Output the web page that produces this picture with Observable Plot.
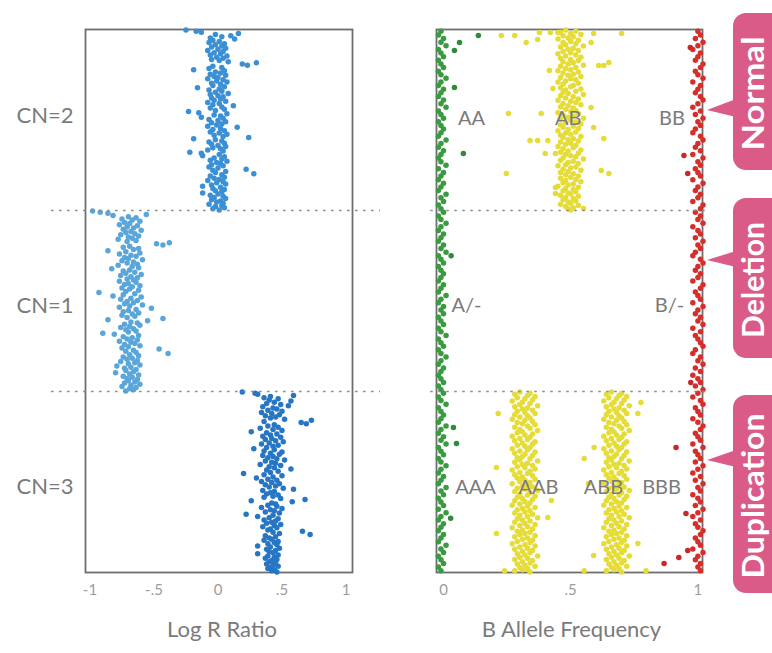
<!DOCTYPE html>
<html>
<head>
<meta charset="utf-8">
<script src="https://cdn.jsdelivr.net/npm/d3@7"></script>
<script src="https://cdn.jsdelivr.net/npm/@observablehq/plot@0.6"></script>
<style>
  html, body { margin: 0; padding: 0; background: #fff; }
  #wrap { position: relative; width: 772px; height: 653px; overflow: hidden; background: #fff; }
  #wrap svg { position: absolute; top: 0; }
</style>
</head>
<body>
<div id="wrap"></div>
<script>
// ---------- tick labels & categories ----------
const lrrTicks = [-1, -0.5, 0, 0.5, 1];
const lrrTickLabels = ["-1", "-.5", "0", ".5", "1"];
const bafTicks = [0, 0.5, 1];
const bafTickLabels = ["0", ".5", "1"];
const segments = ["CN=2", "CN=1", "CN=3"];          // top to bottom
const segmentLabelPos = [0.48, 1.525, 2.53];         // genomic position (segment units)
const callouts = ["Normal", "Deletion", "Duplication"];
const genotypes = ["AA", "AB", "BB", "A/-", "B/-", "AAA", "AAB", "ABB", "BBB"];
const genotypeBaf = [0.11, 0.49, 0.898, 0.09, 0.888, 0.126, 0.373, 0.629, 0.857];
const genotypePos = [0.49, 0.49, 0.49, 1.528, 1.528, 2.533, 2.533, 2.533, 2.533];

// ---------- Log R Ratio, in genomic order within each segment ----------
const lrrCN2 = [
 -0.25,-0.17,-0.13,0.16,-0.02,0.10,0.03,-0.06,0.13,-0.04,
 0.01,-0.07,0.05,-0.02,0.03,-0.05,0.06,0.00,-0.08,0.04,
 -0.03,0.02,-0.06,0.07,-0.01,0.04,-0.05,0.01,0.08,0.30,
 0.19,0.23,-0.04,0.03,-0.07,-0.19,0.05,-0.02,0.02,-0.06,
 0.06,-0.03,0.00,-0.08,0.04,-0.01,0.07,-0.05,0.02,-0.04,
 0.05,-0.16,0.01,-0.07,0.03,-0.02,0.08,-0.06,0.00,0.04,
 -0.05,0.02,-0.03,0.06,-0.08,0.01,-0.04,0.12,0.03,-0.06,
 0.05,-0.02,-0.23,-0.15,0.07,-0.03,0.02,-0.13,0.04,-0.07,
 0.00,0.06,-0.05,0.03,-0.01,-0.08,0.15,0.02,-0.04,0.05,
 -0.06,0.01,0.07,-0.03,0.04,0.24,-0.19,-0.02,0.03,-0.07,
 0.05,-0.05,0.00,0.06,-0.04,0.02,-0.08,0.04,-0.22,-0.13,
 0.01,-0.12,0.05,-0.03,0.03,-0.06,0.07,-0.01,0.02,-0.05,
 0.04,-0.07,0.00,0.22,-0.04,0.06,-0.02,0.28,0.03,-0.06,
 0.05,-0.03,0.01,-0.08,0.04,-0.01,0.06,-0.05,-0.12,0.02,
 -0.04,0.05,-0.02,0.03,-0.12,0.00,-0.06,0.04,-0.03,0.06,
 -0.05,0.02,-0.01,0.04,-0.07,0.03,-0.02,0.05,-0.04,0.01
];
const lrrCN1 = [
 -0.98,-0.92,-0.86,-0.56,-0.82,-0.70,-0.64,-0.75,-0.67,-0.61,
 -0.73,-0.69,-0.77,-0.63,-0.71,-0.66,-0.74,-0.60,-0.68,-0.72,
 -0.65,-0.76,-0.62,-0.70,-0.67,-0.78,-0.64,-0.71,-0.38,-0.48,
 -0.43,-0.69,-0.74,-0.62,-0.66,-0.86,-0.72,-0.61,-0.77,-0.68,
 -0.64,-0.73,-0.70,-0.59,-0.75,-0.66,-0.71,-0.63,-0.78,-0.67,
 -0.62,-0.83,-0.69,-0.74,-0.65,-0.72,-0.60,-0.76,-0.68,-0.63,
 -0.71,-0.66,-0.77,-0.64,-0.70,-0.73,-0.61,-0.67,-0.75,-0.69,
 -0.62,-0.72,-0.93,-0.65,-0.74,-0.82,-0.60,-0.68,-0.76,-0.63,
 -0.71,-0.66,-0.73,-0.59,-0.69,-0.77,-0.52,-0.64,-0.70,-0.74,
 -0.62,-0.67,-0.75,-0.65,-0.71,-0.43,-0.86,-0.55,-0.68,-0.63,
 -0.73,-0.61,-0.69,-0.76,-0.66,-0.72,-0.64,-0.70,-0.90,-0.81,
 -0.62,-0.74,-0.67,-0.71,-0.63,-0.77,-0.68,-0.65,-0.73,-0.61,
 -0.70,-0.75,-0.46,-0.66,-0.72,-0.64,-0.39,-0.69,-0.62,-0.74,
 -0.67,-0.71,-0.63,-0.76,-0.65,-0.70,-0.61,-0.79,-0.68,-0.73,
 -0.64,-0.72,-0.66,-0.80,-0.69,-0.62,-0.74,-0.67,-0.71,-0.63,
 -0.70,-0.65,-0.73,-0.61,-0.68,-0.75,-0.64,-0.69,-0.66,-0.72
];
const lrrCN3 = [
 0.19,0.29,0.31,0.59,0.41,0.36,0.47,0.40,0.57,0.44,
 0.38,0.49,0.55,0.35,0.43,0.46,0.39,0.50,0.34,0.42,
 0.48,0.37,0.45,0.41,0.52,0.73,0.36,0.65,0.69,0.44,
 0.39,0.47,0.33,0.43,0.50,0.26,0.38,0.46,0.41,0.35,
 0.49,0.42,0.37,0.45,0.51,0.40,0.34,0.47,0.43,0.38,
 0.28,0.44,0.36,0.50,0.41,0.48,0.35,0.43,0.39,0.46,
 0.52,0.37,0.42,0.45,0.33,0.49,0.40,0.44,0.57,0.38,
 0.47,0.41,0.20,0.36,0.50,0.43,0.30,0.39,0.46,0.34,
 0.42,0.48,0.37,0.45,0.40,0.51,0.59,0.35,0.44,0.41,
 0.38,0.47,0.43,0.36,0.49,0.68,0.26,0.58,0.42,0.45,
 0.39,0.46,0.34,0.50,0.41,0.44,0.37,0.48,0.22,0.43,
 0.31,0.40,0.47,0.36,0.45,0.42,0.38,0.49,0.44,0.35,
 0.46,0.41,0.39,0.66,0.43,0.48,0.72,0.37,0.45,0.40,
 0.42,0.36,0.47,0.44,0.39,0.46,0.31,0.41,0.48,0.38,
 0.45,0.40,0.43,0.31,0.47,0.39,0.44,0.37,0.46,0.42,
 0.40,0.45,0.38,0.43,0.47,0.41,0.39,0.44,0.42,0.46
];

// ---------- B Allele Frequency ----------
// homozygous A (whole region, genomic order)
const bafGreen = [
 -0.01,-0.02,0.00,-0.01,0.01,-0.02,-0.01,0.00,-0.02,-0.01,
 0.00,-0.02,-0.01,0.01,-0.01,-0.02,0.00,-0.01,-0.02,0.00,
 -0.01,0.01,-0.02,-0.01,0.00,-0.02,-0.01,0.00,-0.01,-0.02,
 0.01,-0.01,-0.02,0.00,-0.01,-0.02,-0.01,0.01,-0.02,0.00,
 -0.01,-0.02,0.00,-0.01,-0.02,0.01,-0.01,0.00,-0.02,-0.01,
 0.00,-0.02,-0.01,0.01,-0.01,-0.02,0.00,-0.01,-0.02,0.00,
 -0.01,0.01,-0.02,-0.01,0.00,-0.02,-0.01,0.00,-0.01,-0.02,
 0.00,-0.01,-0.02,0.01,-0.01,-0.02,0.00,-0.01,0.00,-0.02,
 -0.01,0.00,-0.02,-0.01,0.01,-0.02,-0.01,0.00,-0.02,-0.01,
 0.01,-0.01,-0.02,0.00,-0.01,-0.02,-0.01,0.00,-0.02,-0.01,
 0.00,-0.02,-0.01,0.01,-0.02,-0.01,0.00,-0.01,-0.02,0.01,
 -0.01,-0.02,0.00,-0.01,0.01,-0.02,-0.01,0.00,-0.02,-0.01,
 0.01,-0.01,-0.02,0.00,-0.01,-0.02,0.01,-0.01,0.00,-0.02,
 -0.01,0.00,-0.02,0.01,-0.01,-0.02,0.00,-0.01,-0.02,0.00,
 -0.01,-0.02,0.01,-0.01,0.00,-0.02,-0.01,0.00,-0.02,-0.01
];
const bafGreenOutBaf = [0.063, 0.137, 0.043, 0.043, 0.078, 0.039, 0.051, 0.030, 0.028];
const bafGreenOutPos = [0.072, 0.033, 0.116, 0.320, 0.685, 2.199, 2.287, 1.250, 2.700];
// homozygous B (whole region, genomic order)
const bafRed = [
 1.00,1.01,0.99,1.02,1.00,0.98,1.01,1.00,0.99,1.02,
 1.01,0.99,1.00,1.02,0.98,1.01,1.00,0.99,1.01,1.02,
 1.00,0.98,1.01,0.99,1.02,1.00,1.01,0.99,0.98,1.01,
 1.02,1.00,0.99,1.01,0.98,1.02,1.00,1.01,0.99,1.00,
 1.01,0.98,1.02,1.00,0.99,1.01,1.00,0.98,1.02,1.01,
 0.99,1.01,1.00,1.02,0.98,1.00,1.01,0.99,1.02,1.00,
 1.01,0.99,0.98,1.01,1.02,1.00,0.99,1.01,1.00,0.98,
 1.02,1.01,0.99,1.00,1.01,0.98,1.02,1.00,0.99,1.01,
 1.00,1.02,0.98,1.01,0.99,1.00,1.01,1.02,0.99,0.98,
 1.01,1.00,1.02,0.99,1.01,0.98,1.00,1.01,0.99,1.02,
 1.00,0.98,1.01,1.02,0.99,1.00,1.01,0.98,1.00,1.02,
 1.01,0.99,1.00,1.01,0.98,1.02,0.99,1.00,1.01,0.99,
 1.02,1.00,0.98,1.01,0.99,1.02,1.00,1.01,0.98,1.00,
 1.01,0.99,1.02,1.00,0.98,1.01,0.99,1.00,1.02,1.01,
 0.99,1.00,1.01,0.98,1.02,1.00,0.99,1.01,1.00,1.01
];
const bafRedOutBaf = [0.945, 0.960, 0.914, 0.953, 0.867, 0.925, 0.960, 0.970, 0.972];
const bafRedOutPos = [0.696, 0.796, 2.309, 2.674, 2.950, 2.917, 2.878, 0.100, 1.950];
// heterozygous AB (normal segment)
const bafAB = [
 0.48,0.52,0.46,0.50,0.54,0.47,0.51,0.49,0.45,0.53,
 0.50,0.47,0.52,0.48,0.55,0.46,0.51,0.49,0.53,0.47,
 0.50,0.45,0.52,0.48,0.54,0.46,0.50,0.53,0.47,0.51,
 0.49,0.55,0.46,0.52,0.48,0.50,0.45,0.53,0.47,0.51,
 0.49,0.54,0.46,0.50,0.52,0.48,0.45,0.53,0.47,0.51,
 0.50,0.46,0.54,0.48,0.52,0.47,0.49,0.55,0.46,0.51,
 0.48,0.53,0.45,0.50,0.52,0.47,0.54,0.49,0.46,0.51,
 0.48,0.52,0.50,0.45,0.53,0.47,0.51,0.49,0.55,0.46,
 0.50,0.52,0.48,0.54,0.46,0.51,0.47,0.53,0.49,0.45,
 0.52,0.48,0.50,0.46,0.54,0.47,0.51,0.49,0.53,0.46,
 0.50,0.48,0.52,0.45,0.51,0.47,0.54,0.49,0.46,0.53,
 0.48,0.50,0.52,0.47,0.55,0.46,0.51,0.49,0.53,0.48,
 0.45,0.52,0.50,0.47,0.54,0.49,0.46,0.51,0.48,0.53,
 0.50,0.46,0.52,0.48,0.54,0.47,0.51,0.49,0.45,0.53,
 0.48,0.51,0.47,0.52,0.49,0.50,0.46,0.53,0.48,0.51,
 0.47,0.52,0.49,0.50,0.46,0.53,0.48,0.51,0.49,0.50
];
// AAB and ABB (duplication segment)
const bafAAB = [
 0.30,0.34,0.28,0.33,0.36,0.29,0.32,0.35,0.27,0.31,
 0.34,0.30,0.37,0.28,0.33,0.31,0.35,0.29,0.32,0.36,
 0.28,0.33,0.30,0.34,0.27,0.32,0.35,0.29,0.31,0.36,
 0.33,0.28,0.34,0.30,0.37,0.31,0.29,0.35,0.32,0.27,
 0.34,0.30,0.33,0.28,0.36,0.31,0.35,0.29,0.32,0.34,
 0.27,0.33,0.30,0.36,0.28,0.32,0.35,0.31,0.29,0.34,
 0.30,0.37,0.28,0.33,0.31,0.35,0.29,0.32,0.36,0.27,
 0.34,0.30,0.33,0.28,0.35,0.31,0.29,0.36,0.32,0.30,
 0.34,0.27,0.33,0.31,0.35,0.29,0.32,0.37,0.28,0.34,
 0.30,0.33,0.36,0.29,0.31,0.35,0.28,0.32,0.34,0.30,
 0.27,0.33,0.36,0.31,0.29,0.34,0.32,0.28,0.35,0.30,
 0.33,0.37,0.29,0.31,0.34,0.28,0.32,0.36,0.30,0.33,
 0.27,0.35,0.31,0.29,0.34,0.32,0.30,0.36,0.28,0.33,
 0.31,0.35,0.29,0.34,0.27,0.32,0.36,0.30,0.33,0.28,
 0.35,0.31,0.34,0.29,0.32,0.37,0.30,0.33,0.28,0.35,
 0.31,0.34,0.29,0.32,0.36,0.30,0.33,0.31,0.28,0.34
];
const bafABB = [
 0.66,0.70,0.64,0.69,0.72,0.65,0.68,0.71,0.63,0.67,
 0.70,0.66,0.73,0.64,0.69,0.67,0.71,0.65,0.68,0.72,
 0.64,0.69,0.66,0.70,0.63,0.68,0.71,0.65,0.67,0.72,
 0.69,0.64,0.70,0.66,0.73,0.67,0.65,0.71,0.68,0.63,
 0.70,0.66,0.69,0.64,0.72,0.67,0.71,0.65,0.68,0.70,
 0.63,0.69,0.66,0.72,0.64,0.68,0.71,0.67,0.65,0.70,
 0.66,0.73,0.64,0.69,0.67,0.71,0.65,0.68,0.72,0.63,
 0.70,0.66,0.69,0.64,0.71,0.67,0.65,0.72,0.68,0.66,
 0.70,0.63,0.69,0.67,0.71,0.65,0.68,0.73,0.64,0.70,
 0.66,0.69,0.72,0.65,0.67,0.71,0.64,0.68,0.70,0.66,
 0.63,0.69,0.72,0.67,0.65,0.70,0.68,0.64,0.71,0.66,
 0.69,0.73,0.65,0.67,0.70,0.64,0.68,0.72,0.66,0.69,
 0.63,0.71,0.67,0.65,0.70,0.68,0.66,0.72,0.64,0.69,
 0.67,0.71,0.65,0.70,0.63,0.68,0.72,0.66,0.69,0.64,
 0.71,0.67,0.70,0.65,0.68,0.73,0.66,0.69,0.64,0.71,
 0.67,0.70,0.65,0.68,0.72,0.66,0.69,0.67,0.64,0.70
];
// scattered heterozygous calls (value, genomic position)
const bafYellowOutBaf = [
 0.227,0.280,0.325,0.370,0.377,0.420,0.450,0.590,0.580,0.700,
 0.610,0.630,0.650,0.416,0.430,0.255,0.384,0.580,0.590,0.340,
 0.370,0.410,0.630,0.400,0.440,0.247,0.620,0.650,0.440,0.440,
 0.550,
 0.215,0.208,0.208,0.240,0.553,0.592,0.776,0.764,0.764,0.796,
 0.553,0.590,0.424,0.410,0.570
];
const bafYellowOutPos = [
 0.033,0.033,0.072,0.055,0.017,0.017,0.017,0.022,0.072,0.022,
 0.199,0.199,0.182,0.227,0.326,0.464,0.464,0.431,0.541,0.613,
 0.613,0.613,0.602,0.685,0.685,0.796,0.779,0.796,0.873,0.906,
 0.989,
 2.122,2.420,2.785,2.990,2.370,2.309,2.061,2.122,2.840,2.990,
 2.990,2.906,2.602,2.696,2.508
];

// ---------- tables built from the arrays ----------
const inSegment = (values, seg) => values.map((v, i) => ({v, pos: seg + (i + 0.5) / values.length}));
const acrossRegion = (values) => values.map((v, i) => ({v, pos: 3 * (i + 0.5) / values.length}));
const pairs = (vals, pos) => vals.map((v, i) => ({v, pos: pos[i]}));

const font = "Lato, 'Open Sans', 'DejaVu Sans', sans-serif";
const wrap = document.getElementById("wrap");
const dash = {stroke: "#8a8a8a", strokeWidth: 1.7, strokeDasharray: "2.5,5.5"};
const R = 2.75;

// ---------- left panel: Log R Ratio ----------
const left = Plot.plot({
  width: 395, height: 653,
  marginLeft: 85, marginRight: 43, marginTop: 29, marginBottom: 81,
  style: {fontFamily: font, background: "transparent", overflow: "visible"},
  x: {domain: [-1.035, 1.051]},
  y: {domain: [0, 3], reverse: true, axis: null},
  marks: [
    Plot.frame({stroke: "#6e6e6e", strokeWidth: 1.8}),
    Plot.dot(inSegment(lrrCN2, 0), {x: "v", y: "pos", r: R, fill: "#3a8fd5"}),
    Plot.dot(inSegment(lrrCN1, 1), {x: "v", y: "pos", r: R, fill: "#5aa6da"}),
    Plot.dot(inSegment(lrrCN3, 2), {x: "v", y: "pos", r: R, fill: "#2676c4"}),
    Plot.ruleY([1, 2], {x1: -1.30, x2: 1.27, ...dash}),
    Plot.axisX(lrrTicks, {tickSize: 0, tickPadding: 12, label: null, fontSize: 15, fill: "#9d9d9d",
      tickFormat: d => lrrTickLabels[lrrTicks.indexOf(d)]}),
    Plot.text(segments, {text: d => d, y: (d, i) => segmentLabelPos[i], frameAnchor: "left",
      textAnchor: "end", dx: -12, fontSize: 22, fill: "#7a7a7a"}),
    Plot.text(["Log R Ratio"], {text: d => d, frameAnchor: "bottom", dy: 64, dx: 3, fontSize: 22, fill: "#7a7a7a"})
  ]
});
left.style.left = "0px";
wrap.appendChild(left);

// ---------- right panel: B Allele Frequency ----------
const right = Plot.plot({
  width: 377, height: 653,
  marginLeft: 41, marginRight: 70, marginTop: 29, marginBottom: 81,
  style: {fontFamily: font, background: "transparent", overflow: "visible"},
  x: {domain: [-0.0275, 1.018]},
  y: {domain: [0, 3], reverse: true, axis: null},
  marks: [
    Plot.frame({stroke: "#6e6e6e", strokeWidth: 1.8}),
    Plot.dot(inSegment(bafAB, 0), {x: "v", y: "pos", r: R, fill: "#e6dc38"}),
    Plot.dot(inSegment(bafAAB, 2), {x: "v", y: "pos", r: R, fill: "#e6dc38"}),
    Plot.dot(inSegment(bafABB, 2), {x: "v", y: "pos", r: R, fill: "#e6dc38"}),
    Plot.dot(pairs(bafYellowOutBaf, bafYellowOutPos), {x: "v", y: "pos", r: R, fill: "#e6dc38"}),
    Plot.dot(acrossRegion(bafGreen), {x: "v", y: "pos", r: R, fill: "#3a9a40"}),
    Plot.dot(pairs(bafGreenOutBaf, bafGreenOutPos), {x: "v", y: "pos", r: R, fill: "#2f8a3a"}),
    Plot.dot(acrossRegion(bafRed), {x: "v", y: "pos", r: R, fill: "#d62f2b"}),
    Plot.dot(pairs(bafRedOutBaf, bafRedOutPos), {x: "v", y: "pos", r: R, fill: "#c8282a"}),
    Plot.ruleY([1, 2], {x1: -0.05, x2: 1.04, ...dash}),
    Plot.axisX(bafTicks, {tickSize: 0, tickPadding: 12, label: null, fontSize: 15, fill: "#9d9d9d",
      tickFormat: d => bafTickLabels[bafTicks.indexOf(d)]}),
    Plot.text(genotypes, {text: d => d, x: (d, i) => genotypeBaf[i], y: (d, i) => genotypePos[i],
      fontSize: 20, fill: "#7a7a7a"}),
    Plot.text(["B Allele Frequency"], {text: d => d, frameAnchor: "bottom", dy: 64, dx: 2, fontSize: 22, fill: "#7a7a7a"})
  ]
});
right.style.left = "395px";
wrap.appendChild(right);

// ---------- pink call-outs (annotation layer) ----------
const pink = "#da5a88";
const calloutLayout = [
  {top: 13, bottom: 170, tip: 110, b1: 99, b2: 117, len: 114},
  {top: 198, bottom: 358, tip: 260, b1: 251, b2: 267, len: 116},
  {top: 395, bottom: 593, tip: 460, b1: 450, b2: 467, len: 165}
];
const ann = d3.select(wrap).append("svg")
  .attr("width", 772).attr("height", 653)
  .style("left", "0px").style("pointer-events", "none");
callouts.forEach((label, i) => {
  const L = calloutLayout[i];
  const g = ann.append("g");
  g.append("rect").attr("x", 733).attr("y", L.top).attr("width", 60)
    .attr("height", L.bottom - L.top).attr("rx", 13).attr("fill", pink);
  g.append("polygon").attr("points", `707,${L.tip} 736,${L.b1} 736,${L.b2}`).attr("fill", pink);
  const cy = (L.top + L.bottom) / 2 + 2;
  g.append("text").attr("x", 764).attr("y", cy)
    .attr("transform", `rotate(-90,764,${cy})`)
    .attr("text-anchor", "middle")
    .attr("font-family", font).attr("font-weight", 700).attr("font-size", 31)
    .attr("fill", "#fff")
    .attr("textLength", L.len).attr("lengthAdjust", "spacingAndGlyphs")
    .text(label);
});
</script>
</body>
</html>
